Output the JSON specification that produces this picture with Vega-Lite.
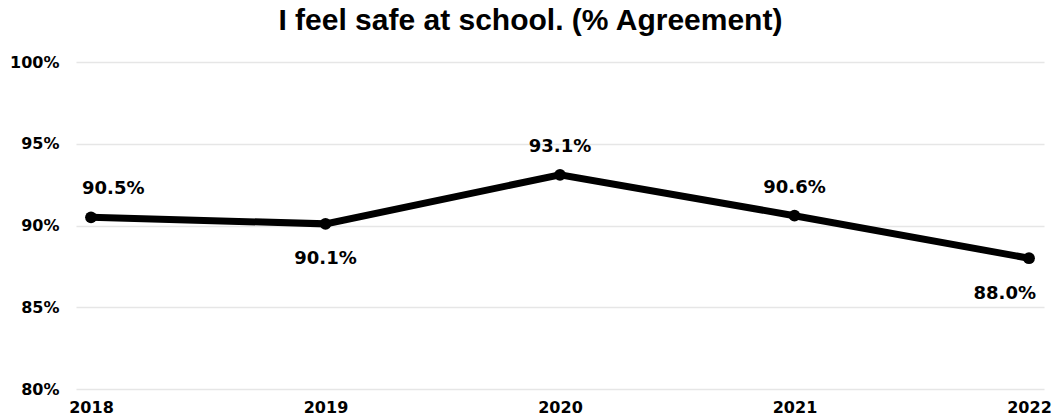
{
  "$schema": "https://vega.github.io/schema/vega-lite/v6.json",
  "width": 968,
  "height": 327,
  "autosize": {"type": "none"},
  "padding": {"left": 76, "top": 62, "right": 11, "bottom": 28},
  "background": "white",
  "view": {"stroke": null},
  "title": {
    "text": "I feel safe at school. (% Agreement)",
    "font": "Liberation Sans",
    "fontSize": 30,
    "fontWeight": "bold",
    "color": "black",
    "anchor": "middle",
    "frame": "bounds",
    "baseline": "alphabetic",
    "offset": -6
  },
  "data": {
    "values": [
      {"year": "2018", "pct": 0.905},
      {"year": "2019", "pct": 0.901},
      {"year": "2020", "pct": 0.931},
      {"year": "2021", "pct": 0.906},
      {"year": "2022", "pct": 0.880}
    ]
  },
  "encoding": {
    "x": {
      "field": "year",
      "type": "ordinal",
      "scale": {"type": "point", "padding": 0.064},
      "axis": {
        "title": null,
        "labelAngle": 0,
        "domain": false,
        "ticks": false,
        "labelFont": "DejaVu Sans",
        "labelFontSize": 16,
        "labelFontWeight": "bold",
        "labelColor": "black",
        "labelPadding": 10
      }
    },
    "y": {
      "field": "pct",
      "type": "quantitative",
      "scale": {"domain": [0.8, 1.0], "nice": false, "zero": false},
      "axis": {
        "title": null,
        "format": ".0%",
        "values": [0.8, 0.85, 0.9, 0.95, 1.0],
        "domain": false,
        "ticks": false,
        "gridColor": "#e6e6e6",
        "gridWidth": 1.5,
        "labelFont": "DejaVu Sans",
        "labelFontSize": 16,
        "labelFontWeight": "bold",
        "labelColor": "black",
        "labelPadding": 17
      }
    }
  },
  "layer": [
    {
      "mark": {"type": "line", "color": "black", "strokeWidth": 7},
      "encoding": {}
    },
    {
      "mark": {"type": "point", "filled": true, "color": "black", "opacity": 1, "size": 140},
      "encoding": {}
    },
    {
      "transform": [{"filter": "datum.year == '2020' || datum.year == '2021'"}],
      "mark": {"type": "text", "font": "DejaVu Sans", "fontSize": 18, "fontWeight": "bold", "color": "black", "align": "center", "baseline": "middle", "dy": -28},
      "encoding": {"text": {"field": "pct", "type": "quantitative", "format": ".1%"}}
    },
    {
      "transform": [{"filter": "datum.year == '2018'"}],
      "mark": {"type": "text", "font": "DejaVu Sans", "fontSize": 18, "fontWeight": "bold", "color": "black", "align": "left", "baseline": "middle", "dy": -28, "dx": -9},
      "encoding": {"text": {"field": "pct", "type": "quantitative", "format": ".1%"}}
    },
    {
      "transform": [{"filter": "datum.year == '2019'"}],
      "mark": {"type": "text", "font": "DejaVu Sans", "fontSize": 18, "fontWeight": "bold", "color": "black", "align": "center", "baseline": "middle", "dy": 35},
      "encoding": {"text": {"field": "pct", "type": "quantitative", "format": ".1%"}}
    },
    {
      "transform": [{"filter": "datum.year == '2022'"}],
      "mark": {"type": "text", "font": "DejaVu Sans", "fontSize": 18, "fontWeight": "bold", "color": "black", "align": "right", "baseline": "middle", "dy": 36, "dx": 7},
      "encoding": {"text": {"field": "pct", "type": "quantitative", "format": ".1%"}}
    }
  ]
}
